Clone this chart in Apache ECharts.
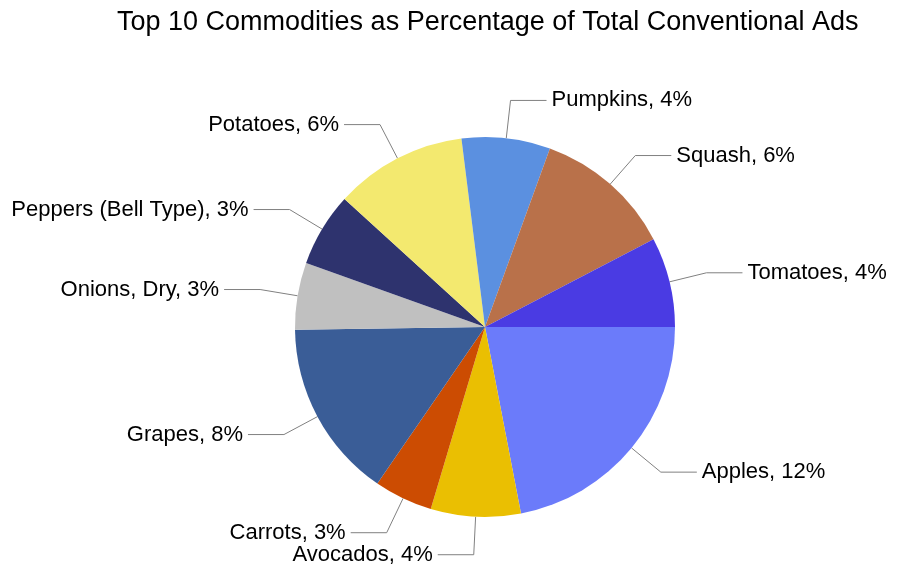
<!DOCTYPE html>
<html>
<head>
<meta charset="utf-8">
<script src="https://cdn.jsdelivr.net/npm/echarts@6/dist/echarts.min.js"></script>
<style>html,body{margin:0;padding:0;background:#fff}#c{width:900px;height:573px}</style>
</head>
<body>
<div id="c"></div>
<script>
const categories = ["Apples", "Avocados", "Carrots", "Grapes", "Onions, Dry", "Peppers (Bell Type)", "Potatoes", "Pumpkins", "Squash", "Tomatoes"];
const values = [11.87, 4.13, 2.69, 8.21, 3.08, 3.39, 6.09, 4.07, 6.38, 4.13];
const colors = ["#6b7bfa", "#eabf02", "#cc4c02", "#3a5d97", "#c0c0c0", "#2e336e", "#f3e96f", "#5b90e0", "#b9714a", "#4a3be3"];

const chart = echarts.init(document.getElementById('c'));
chart.setOption({
  animation: false,
  title: {
    text: 'Top 10 Commodities as Percentage of Total Conventional Ads',
    left: 112,
    top: 4,
    textStyle: { fontFamily: 'Liberation Sans', fontSize: 27, fontWeight: 'normal', color: '#000' }
  },
  series: [{
    type: 'pie',
    center: [485, 327],
    radius: 190,
    startAngle: 0,
    clockwise: true,
    avoidLabelOverlap: false,
    data: categories.map((n, i) => ({ name: n, value: values[i], itemStyle: { color: colors[i] } })),
    label: {
      formatter: p => p.name + ', ' + Math.round(p.value) + '%',
      fontFamily: 'Liberation Sans',
      fontSize: 22,
      color: '#000'
    },
    labelLine: {
      show: true,
      length: 38,
      length2: 36,
      lineStyle: { color: '#808080', width: 1 }
    }
  }]
});
</script>
</body>
</html>
